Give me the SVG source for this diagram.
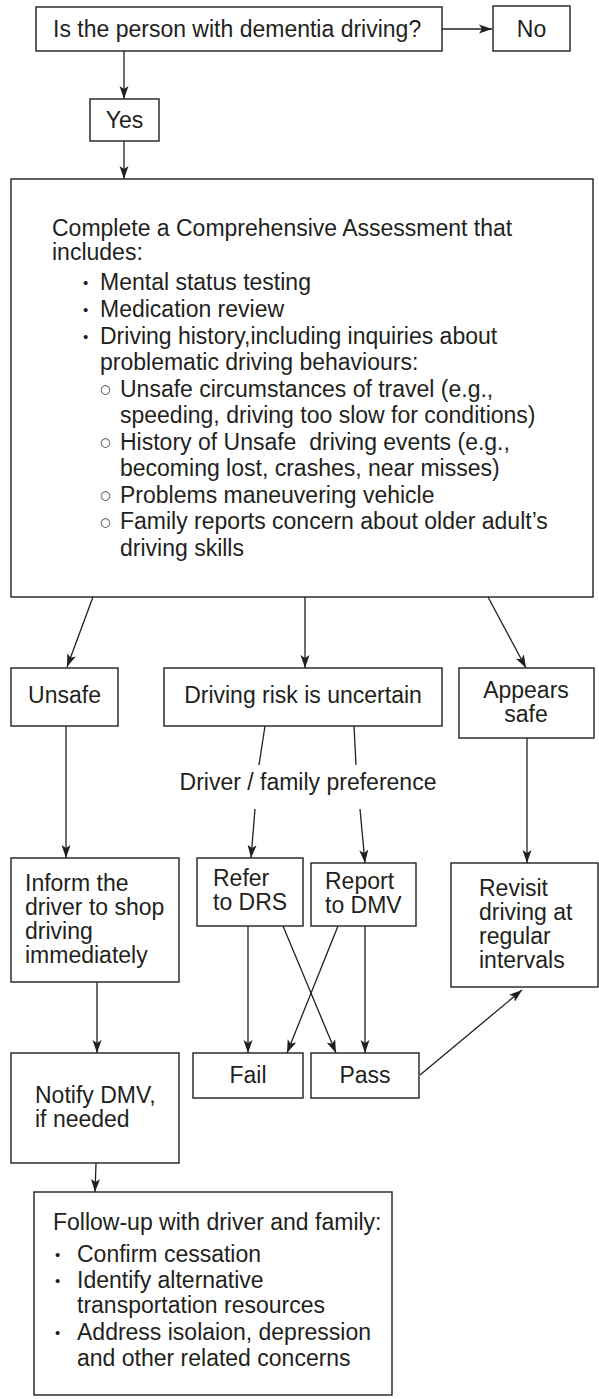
<svg xmlns="http://www.w3.org/2000/svg" width="599" height="1399" viewBox="0 0 599 1399">
<style>
  .box{fill:#fff;stroke:#231f20;stroke-width:1.4}
  .t{font-family:"Liberation Sans",Arial,Helvetica,sans-serif;font-size:23px;fill:#231f20}
  .c{text-anchor:middle}
  .b{font-family:"Liberation Sans",Arial,sans-serif;font-size:15px;fill:#231f20}
  .r{font-family:"DejaVu Sans",sans-serif;font-size:12px;fill:#231f20}
  .ln{fill:none;stroke:#231f20;stroke-width:1.3}
  .ar{marker-end:url(#ah)}
</style>
<defs>
  <marker id="ah" markerUnits="userSpaceOnUse" markerWidth="14" markerHeight="10" refX="13" refY="5" orient="auto">
    <path d="M0,0.5 L13,5 L0,9.5 L3,5 z" fill="#231f20"/>
  </marker>
</defs>
<rect width="599" height="1399" fill="#fff"/>

<g id="connectors">
  <line class="ln ar" x1="442" y1="29" x2="492" y2="29"/>
  <line class="ln ar" x1="124" y1="51" x2="124" y2="99"/>
  <line class="ln ar" x1="124" y1="141" x2="124" y2="179"/>
  <line class="ln ar" x1="93" y1="597" x2="67" y2="667"/>
  <line class="ln ar" x1="305" y1="597" x2="305" y2="668"/>
  <line class="ln ar" x1="488" y1="597" x2="526" y2="668"/>
  <line class="ln" x1="265" y1="726" x2="259" y2="765"/>
  <line class="ln" x1="354" y1="726" x2="356" y2="765"/>
  <line class="ln ar" x1="255" y1="809" x2="251" y2="858"/>
  <line class="ln ar" x1="360" y1="809" x2="365" y2="863"/>
  <line class="ln ar" x1="66" y1="726" x2="66" y2="858"/>
  <line class="ln ar" x1="527" y1="738" x2="527" y2="863"/>
  <line class="ln ar" x1="97" y1="982" x2="97" y2="1053"/>
  <line class="ln ar" x1="248" y1="926" x2="248" y2="1053"/>
  <line class="ln ar" x1="283" y1="926" x2="336" y2="1053"/>
  <line class="ln ar" x1="338" y1="926" x2="287" y2="1053"/>
  <line class="ln ar" x1="365" y1="926" x2="365" y2="1053"/>
  <line class="ln ar" x1="420" y1="1075" x2="522" y2="990"/>
  <line class="ln ar" x1="96" y1="1163" x2="95" y2="1192"/>
</g>

<g id="q-driving">
  <rect class="box" x="36" y="7" width="406" height="44"/>
  <text class="t" x="53" y="37">Is the person with dementia driving?</text>
</g>
<g id="no">
  <rect class="box" x="493" y="6" width="77" height="45"/>
  <text class="t c" x="531.5" y="37">No</text>
</g>
<g id="yes">
  <rect class="box" x="90" y="99" width="69" height="42"/>
  <text class="t c" x="124.5" y="128">Yes</text>
</g>

<g id="assessment">
  <rect class="box" x="11" y="179" width="582" height="418"/>
  <text class="t"><tspan x="52" y="236">Complete a Comprehensive Assessment that</tspan><tspan x="52" y="260">includes:</tspan></text>
  <text class="b" x="83" y="288">•</text>
  <text class="t" x="100" y="290">Mental status testing</text>
  <text class="b" x="83" y="315">•</text>
  <text class="t" x="100" y="317">Medication review</text>
  <text class="b" x="83" y="341.5">•</text>
  <text class="t"><tspan x="100" y="343.5">Driving history,including inquiries about</tspan><tspan x="100" y="370">problematic driving behaviours:</tspan></text>
  <text class="r" x="100" y="393">○</text>
  <text class="t"><tspan x="120" y="396.5">Unsafe circumstances of travel (e.g.,</tspan><tspan x="120" y="423">speeding, driving too slow for conditions)</tspan></text>
  <text class="r" x="100" y="446">○</text>
  <text class="t"><tspan x="120" y="449.5">History of Unsafe &#160;driving events (e.g.,</tspan><tspan x="120" y="476">becoming lost, crashes, near misses)</tspan></text>
  <text class="r" x="100" y="499">○</text>
  <text class="t" x="120" y="502.5">Problems maneuvering vehicle</text>
  <text class="r" x="100" y="525.5">○</text>
  <text class="t"><tspan x="120" y="529">Family reports concern about older adult’s</tspan><tspan x="120" y="555.5">driving skills</tspan></text>
</g>

<g id="unsafe">
  <rect class="box" x="11" y="668" width="107" height="58"/>
  <text class="t c" x="64.5" y="703">Unsafe</text>
</g>
<g id="uncertain">
  <rect class="box" x="164" y="668" width="278" height="58"/>
  <text class="t c" x="303" y="703">Driving risk is uncertain</text>
</g>
<g id="appears-safe">
  <rect class="box" x="459" y="668" width="135" height="70"/>
  <text class="t c"><tspan x="526" y="698">Appears</tspan><tspan x="526" y="722">safe</tspan></text>
</g>

<g id="preference">
  <text class="t c" x="308" y="790">Driver / family preference</text>
</g>

<g id="inform">
  <rect class="box" x="11" y="858" width="168" height="124"/>
  <text class="t"><tspan x="25" y="891">Inform the</tspan><tspan x="25" y="915">driver to shop</tspan><tspan x="25" y="939">driving</tspan><tspan x="25" y="963">immediately</tspan></text>
</g>
<g id="refer">
  <rect class="box" x="197" y="858" width="106" height="68"/>
  <text class="t"><tspan x="213" y="886">Refer</tspan><tspan x="213" y="910">to DRS</tspan></text>
</g>
<g id="report">
  <rect class="box" x="311" y="863" width="105" height="63"/>
  <text class="t"><tspan x="325" y="889">Report</tspan><tspan x="325" y="913">to DMV</tspan></text>
</g>
<g id="revisit">
  <rect class="box" x="451" y="863" width="147" height="124"/>
  <text class="t"><tspan x="479" y="896">Revisit</tspan><tspan x="479" y="920">driving at</tspan><tspan x="479" y="944">regular</tspan><tspan x="479" y="968">intervals</tspan></text>
</g>

<g id="fail">
  <rect class="box" x="193" y="1053" width="110" height="45"/>
  <text class="t c" x="248" y="1083">Fail</text>
</g>
<g id="pass">
  <rect class="box" x="311" y="1053" width="108" height="45"/>
  <text class="t c" x="365" y="1083">Pass</text>
</g>
<g id="notify">
  <rect class="box" x="11" y="1053" width="168" height="110"/>
  <text class="t"><tspan x="35" y="1103">Notify DMV,</tspan><tspan x="35" y="1127">if needed</tspan></text>
</g>

<g id="follow-up">
  <rect class="box" x="34" y="1192" width="358" height="203"/>
  <text class="t" x="53" y="1230">Follow-up with driver and family:</text>
  <text class="b" x="55" y="1260">•</text>
  <text class="t" x="77" y="1262">Confirm cessation</text>
  <text class="b" x="55" y="1286">•</text>
  <text class="t"><tspan x="77" y="1288">Identify alternative</tspan><tspan x="77" y="1313">transportation resources</tspan></text>
  <text class="b" x="55" y="1338">•</text>
  <text class="t"><tspan x="77" y="1340">Address isolaion, depression</tspan><tspan x="77" y="1366">and other related concerns</tspan></text>
</g>
</svg>
